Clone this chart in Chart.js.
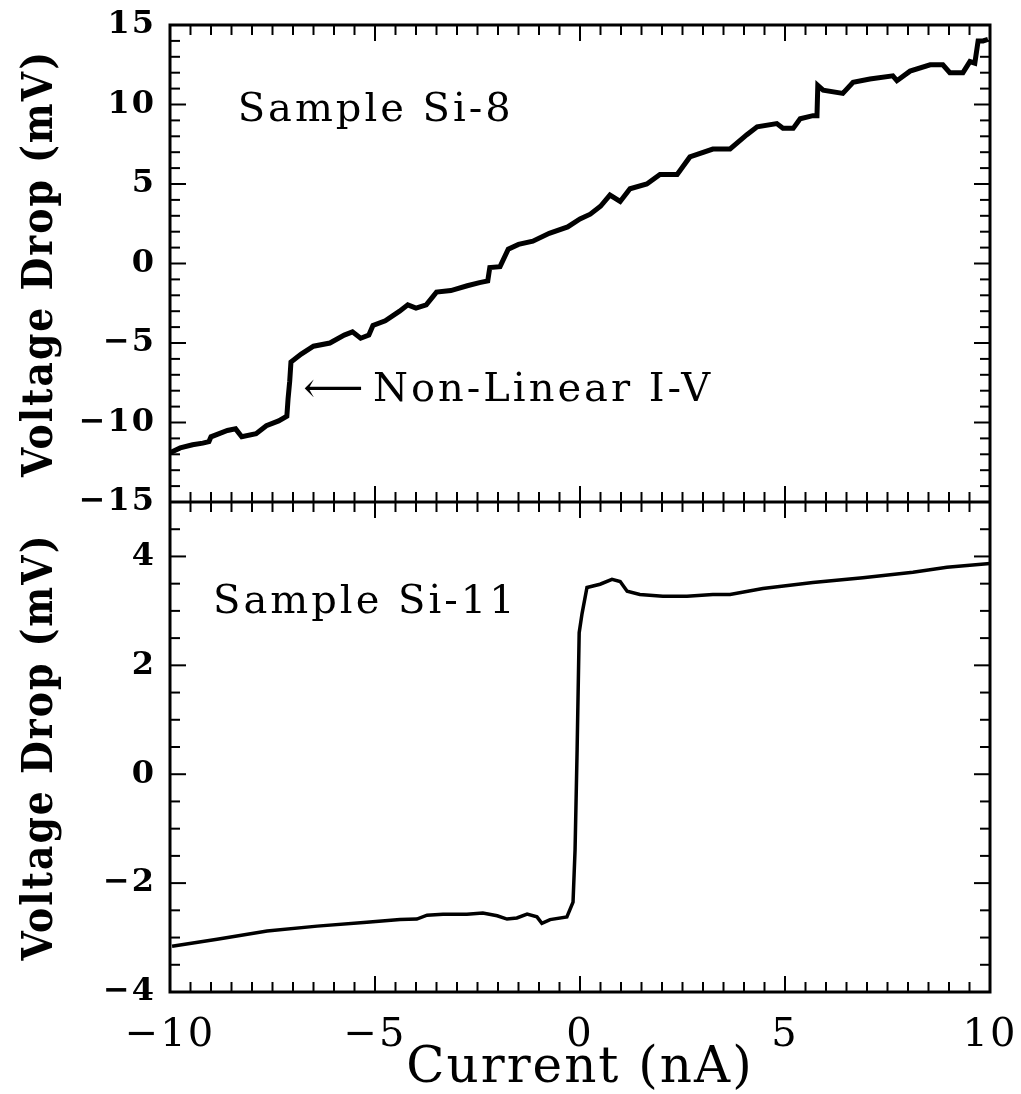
<!DOCTYPE html>
<html>
<head>
<meta charset="utf-8">
<script src="https://cdn.jsdelivr.net/npm/chart.js@4.4.1/dist/chart.umd.min.js"></script>
<style>
	html, body { margin: 0; padding: 0; background: #fff; }
	#wrap { width: 1021px; height: 1094px; }
</style>
</head>
<body>
<div id="wrap"><canvas id="ivChart" width="1021" height="1094"></canvas></div>
<script>
// Sample Si-8 (top panel)
const SI8_CURRENT = [
	-10.0, -9.75, -9.45, -9.2, -9.05, -9.0, -8.6, -8.4, -8.25, -7.9,
	-7.65, -7.35, -7.15, -7.12, -7.08, -7.05, -6.8, -6.5, -6.1, -5.75,
	-5.55, -5.35, -5.15, -5.05, -4.75, -4.4, -4.2, -4.0, -3.75, -3.5,
	-3.15, -2.75, -2.45, -2.25, -2.2, -1.95, -1.75, -1.5, -1.15, -0.75,
	-0.3, 0.0, 0.25, 0.5, 0.73, 0.98, 1.22, 1.63, 1.95, 2.37,
	2.68, 3.24, 3.66, 4.07, 4.32, 4.8, 4.95, 5.2, 5.37, 5.68,
	5.78, 5.8, 5.93, 6.41, 6.66, 7.07, 7.63, 7.73, 8.05, 8.54,
	8.85, 9.02, 9.34, 9.51, 9.63, 9.71, 9.83, 9.95,
];
const SI8_VOLTAGE = [
	-11.9, -11.6, -11.4, -11.3, -11.2, -10.9, -10.5, -10.4, -10.9, -10.7,
	-10.2, -9.9, -9.6, -8.5, -7.4, -6.2, -5.7, -5.2, -5.0, -4.5,
	-4.3, -4.7, -4.5, -3.9, -3.6, -3.0, -2.6, -2.8, -2.6, -1.8,
	-1.7, -1.4, -1.2, -1.1, -0.25, -0.2, 0.9, 1.2, 1.4, 1.9,
	2.3, 2.8, 3.1, 3.6, 4.3, 3.9, 4.7, 5.0, 5.6, 5.6,
	6.7, 7.2, 7.2, 8.1, 8.6, 8.8, 8.5, 8.5, 9.1, 9.3,
	9.3, 11.2, 10.9, 10.7, 11.4, 11.6, 11.8, 11.5, 12.1, 12.5,
	12.5, 12.0, 12.0, 12.7, 12.6, 14.0, 14.0, 14.1,
];
// Sample Si-11 (bottom panel)
const SI11_CURRENT = [
	-9.95, -8.85, -7.63, -6.41, -5.2, -4.39, -3.98, -3.73, -3.34, -2.76,
	-2.37, -2.02, -1.78, -1.54, -1.29, -1.05, -0.93, -0.73, -0.32, -0.17,
	-0.12, -0.07, -0.02, 0.05, 0.17, 0.49, 0.78, 0.98, 1.15, 1.46,
	2.02, 2.61, 3.24, 3.66, 4.46, 5.68, 6.9, 8.12, 8.95, 10.0,
];
const SI11_VOLTAGE = [
	-3.16, -3.03, -2.88, -2.79, -2.72, -2.67, -2.66, -2.59, -2.57, -2.57,
	-2.55, -2.6, -2.66, -2.64, -2.57, -2.62, -2.74, -2.67, -2.62, -2.35,
	-1.38, 0.46, 2.6, 2.95, 3.43, 3.49, 3.58, 3.54, 3.36, 3.3,
	3.27, 3.27, 3.3, 3.3, 3.41, 3.52, 3.61, 3.71, 3.8, 3.87,
];

const X_TICKS = [-10, -5, 0, 5, 10];
const TOP_Y_TICKS = [-15, -10, -5, 0, 5, 10, 15];
const BOTTOM_Y_TICKS = [-4, -2, 0, 2, 4];

const FONT = "'DejaVu Serif', 'Liberation Serif', serif";
const TITLE_FONT = "'DejaVu Serif Condensed', 'DejaVu Serif', serif";

function toPoints(xs, ys) {
	return xs.map((x, i) => ({ x: x, y: ys[i] }));
}

function fmt(v) {
	return v < 0 ? '\u2212' + Math.abs(v) : String(v);
}

function fixedTicks(values) {
	return scale => {
		scale.ticks = values.map(v => ({ value: v }));
	};
}

// keep the label overhang from pushing the plot area in
function noPad(scale) {
	scale.paddingLeft = 0;
	scale.paddingRight = 0;
	scale.paddingTop = 0;
	scale.paddingBottom = 0;
}

const spacing = {
	id: 'spacing',
	beforeLayout(chart) {
		chart.ctx.letterSpacing = '2px';
	},
	beforeDraw(chart) {
		chart.ctx.letterSpacing = '2px';
	},
};

// frame, inward ticks and the shared middle axis
const frameAndTicks = {
	id: 'frameAndTicks',
	afterDatasetsDraw(chart) {
		const { ctx, chartArea } = chart;
		const x = chart.scales.x;
		const yTop = chart.scales.yTop;
		const yBot = chart.scales.yBottom;
		const L = chartArea.left, R = chartArea.right;
		const mid = yTop.bottom;

		function seg(x1, y1, x2, y2) {
			ctx.beginPath();
			ctx.moveTo(x1, y1);
			ctx.lineTo(x2, y2);
			ctx.stroke();
		}

		ctx.save();
		ctx.strokeStyle = '#000';
		ctx.lineWidth = 3;
		ctx.strokeRect(L, chartArea.top, R - L, chartArea.bottom - chartArea.top);
		seg(L, mid, R, mid);

		ctx.lineWidth = 2;
		for (let v = -10; v <= 10; v += 0.5) {
			const px = x.getPixelForValue(v);
			const len = v % 5 === 0 ? 16 : 10;
			seg(px, chartArea.top, px, chartArea.top + len);
			seg(px, mid - len, px, mid + len);
			seg(px, chartArea.bottom, px, chartArea.bottom - len);
		}
		for (let v = -15; v <= 15; v += 1) {
			const py = yTop.getPixelForValue(v);
			const len = v % 5 === 0 ? 16 : 10;
			seg(L, py, L + len, py);
			seg(R, py, R - len, py);
		}
		for (let v = -4; v <= 5; v += 0.5) {
			const py = yBot.getPixelForValue(v);
			const len = v % 2 === 0 ? 16 : 10;
			seg(L, py, L + len, py);
			seg(R, py, R - len, py);
		}
		ctx.restore();
	},
};

// panel labels, placed in data units
const labels = {
	id: 'labels',
	afterDraw(chart) {
		const { ctx } = chart;
		const x = chart.scales.x;
		const yTop = chart.scales.yTop;
		const yBot = chart.scales.yBottom;
		ctx.save();
		ctx.fillStyle = '#000';
		ctx.textBaseline = 'middle';
		ctx.textAlign = 'left';
		ctx.letterSpacing = '3px';
		ctx.font = '40px ' + FONT;
		ctx.fillText('Sample Si-8', x.getPixelForValue(-8.35), yTop.getPixelForValue(9.6));
		ctx.fillText('Sample Si-11', x.getPixelForValue(-8.95), yBot.getPixelForValue(3.15));
		ctx.fillText('Non-Linear I-V', x.getPixelForValue(-5.05), yTop.getPixelForValue(-8.0));
		ctx.letterSpacing = '0px';
		ctx.font = '42px ' + FONT;
		ctx.fillText('\u27F5', x.getPixelForValue(-6.75), yTop.getPixelForValue(-8.0));
		ctx.restore();
	},
};

const Y_TICK_FONT = { family: FONT, size: 32, weight: 'bold' };
const Y_TITLE_FONT = { family: TITLE_FONT, size: 42, weight: 'bold' };

const ctx = document.getElementById('ivChart').getContext('2d');

const ivChart = new Chart(ctx, {
	type: 'scatter',
	data: {
		datasets: [
			{
				label: 'Sample Si-8',
				data: toPoints(SI8_CURRENT, SI8_VOLTAGE),
				yAxisID: 'yTop',
				showLine: true,
				borderColor: '#000',
				borderWidth: 5,
				pointRadius: 0,
				tension: 0,
			},
			{
				label: 'Sample Si-11',
				data: toPoints(SI11_CURRENT, SI11_VOLTAGE),
				yAxisID: 'yBottom',
				showLine: true,
				borderColor: '#000',
				borderWidth: 3.5,
				pointRadius: 0,
				tension: 0,
			},
		],
	},
	options: {
		responsive: false,
		animation: false,
		layout: {
			padding: { top: 25, right: 31, left: 0, bottom: 0 },
		},
		plugins: {
			legend: { display: false },
			tooltip: { enabled: false },
		},
		scales: {
			x: {
				type: 'linear',
				position: 'bottom',
				min: -10,
				max: 10,
				afterBuildTicks: fixedTicks(X_TICKS),
				afterFit(scale) {
					scale.height = 102;
					noPad(scale);
				},
				grid: { display: false, drawTicks: false },
				border: { display: false },
				ticks: {
					color: '#000',
					padding: 20,
					maxRotation: 0,
					font: { family: FONT, size: 40 },
					callback: v => fmt(v),
				},
				title: {
					display: true,
					text: 'Current (nA)',
					color: '#000',
					font: { family: FONT, size: 50, lineHeight: 1 },
					padding: { top: 0, bottom: 0 },
				},
			},
			yBottom: {
				type: 'linear',
				position: 'left',
				stack: 'panels',
				stackWeight: 490,
				min: -4,
				max: 5,
				afterBuildTicks: fixedTicks(BOTTOM_Y_TICKS),
				afterFit(scale) {
					scale.width = 170;
					noPad(scale);
				},
				grid: { display: false, drawTicks: false },
				border: { display: false },
				ticks: {
					color: '#000',
					padding: 14,
					font: Y_TICK_FONT,
					callback: v => fmt(v),
				},
				title: {
					display: true,
					text: 'Voltage Drop (mV)',
					color: '#000',
					font: Y_TITLE_FONT,
					padding: { top: 16, bottom: 0 },
				},
			},
			yTop: {
				type: 'linear',
				position: 'left',
				stack: 'panels',
				stackWeight: 477,
				min: -15,
				max: 15,
				afterBuildTicks: fixedTicks(TOP_Y_TICKS),
				afterFit(scale) {
					scale.width = 170;
					noPad(scale);
				},
				grid: { display: false, drawTicks: false },
				border: { display: false },
				ticks: {
					color: '#000',
					padding: 14,
					font: Y_TICK_FONT,
					callback: v => fmt(v),
				},
				title: {
					display: true,
					text: 'Voltage Drop (mV)',
					color: '#000',
					font: Y_TITLE_FONT,
					padding: { top: 16, bottom: 0 },
				},
			},
		},
	},
	plugins: [spacing, frameAndTicks, labels],
});
</script>
</body>
</html>
